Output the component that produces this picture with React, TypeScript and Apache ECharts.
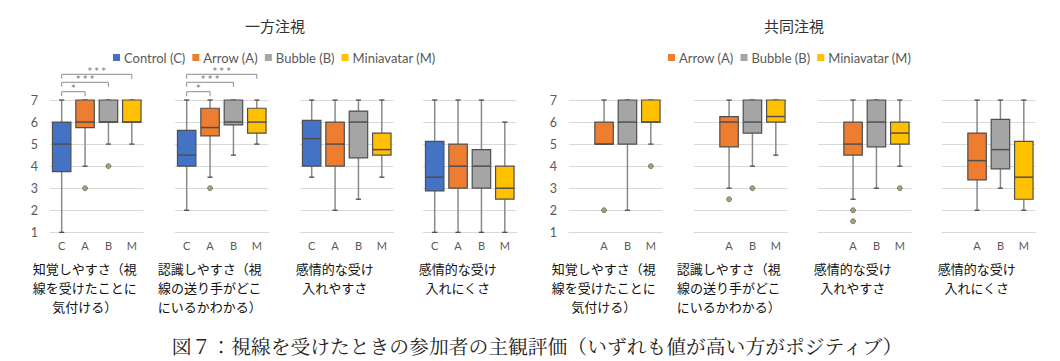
import React, { useEffect, useRef } from "react";
import * as echarts from "echarts";

// ---------- data ----------
const oneWayCategories = ["C", "A", "B", "M"];
const jointCategories = ["", "A", "B", "M"];
const seriesNames = ["Control (C)", "Arrow (A)", "Bubble (B)", "Miniavatar (M)"];
const seriesColors = ["#4472C4", "#ED7D31", "#A5A5A5", "#FFC000"];
const groupTitles = ["一方注視", "共同注視"];
const panelLabels = [
  "知覚しやすさ（視\n線を受けたことに\n気付ける）",
  "認識しやすさ（視\n線の送り手がどこ\nにいるかわかる）",
  "感情的な受け\n入れやすさ",
  "感情的な受け\n入れにくさ",
];
const caption = "図７：視線を受けたときの参加者の主観評価（いずれも値が高い方がポジティブ）";
const yMin = 1;
const yMax = 7;

// box rows: [categoryIndex, min, Q1, median, Q3, max]
const oneWayPerception = [
  [0, 1, 3.75, 5, 6, 7],
  [1, 4, 5.75, 6, 7, 7],
  [2, 5, 6, 6, 7, 7],
  [3, 5, 6, 6, 7, 7],
];
const oneWayPerceptionOutliers = [[1, 3], [2, 4]];

const oneWayRecognition = [
  [0, 2, 4, 4.5, 5.625, 7],
  [1, 3.5, 5.375, 5.75, 6.625, 7],
  [2, 4.5, 5.875, 6, 7, 7],
  [3, 5, 5.5, 6, 6.625, 7],
];
const oneWayRecognitionOutliers = [[1, 3]];

const oneWayAcceptEase = [
  [0, 3.5, 4, 5.25, 6.08, 7],
  [1, 2, 4, 5, 6, 7],
  [2, 2.5, 4.375, 6, 6.5, 7],
  [3, 3.5, 4.5, 4.75, 5.5, 7],
];
const oneWayAcceptEaseOutliers: number[][] = [];

const oneWayAcceptHard = [
  [0, 1, 2.875, 3.5, 5.125, 7],
  [1, 1, 3, 4, 5, 7],
  [2, 1, 3, 4, 4.75, 7],
  [3, 1, 2.5, 3, 4, 6],
];
const oneWayAcceptHardOutliers: number[][] = [];

const jointPerception = [
  [1, 5, 5, 5, 6, 7],
  [2, 2, 5, 6, 7, 7],
  [3, 5, 6, 6, 7, 7],
];
const jointPerceptionOutliers = [[1, 2], [3, 4]];

const jointRecognition = [
  [1, 3, 4.875, 6, 6.25, 7],
  [2, 4, 5.5, 6, 7, 7],
  [3, 4.5, 6, 6.25, 7, 7],
];
const jointRecognitionOutliers = [[1, 2.5], [2, 3]];

const jointAcceptEase = [
  [1, 2.5, 4.5, 5, 6, 7],
  [2, 3, 4.875, 6, 7, 7],
  [3, 4, 5, 5.5, 6, 7],
];
const jointAcceptEaseOutliers = [[1, 2], [1, 1.5], [3, 3]];

const jointAcceptHard = [
  [1, 2, 3.375, 4.25, 5.5, 7],
  [2, 3, 3.875, 4.75, 6.125, 7],
  [3, 2, 2.5, 3.5, 5.125, 7],
];
const jointAcceptHardOutliers: number[][] = [];

// significance brackets: [fromCategory, toCategory, level]
const significanceBrackets = [[0, 1, 0], [0, 2, 1], [0, 3, 2]];
const significanceMarks = ["*", "* * *", "* * *"];

// ---------- layout ----------
const panels = [
  { boxes: oneWayPerception, outliers: oneWayPerceptionOutliers, cats: oneWayCategories, brackets: true },
  { boxes: oneWayRecognition, outliers: oneWayRecognitionOutliers, cats: oneWayCategories, brackets: true },
  { boxes: oneWayAcceptEase, outliers: oneWayAcceptEaseOutliers, cats: oneWayCategories, brackets: false },
  { boxes: oneWayAcceptHard, outliers: oneWayAcceptHardOutliers, cats: oneWayCategories, brackets: false },
  { boxes: jointPerception, outliers: jointPerceptionOutliers, cats: jointCategories, brackets: false },
  { boxes: jointRecognition, outliers: jointRecognitionOutliers, cats: jointCategories, brackets: false },
  { boxes: jointAcceptEase, outliers: jointAcceptEaseOutliers, cats: jointCategories, brackets: false },
  { boxes: jointAcceptHard, outliers: jointAcceptHardOutliers, cats: jointCategories, brackets: false },
];
const gridLefts = [50, 175, 300, 423, 569, 694, 818, 942];
const gridWidth = 93.5;
const gridTop = 100;
const gridHeight = 132.3;
const bracketOffsets = [8.3, 17.7, 25.7];
const titleCenters = [275, 794];

const CJK = '"Noto Sans CJK JP", sans-serif';
const LATIN = 'Lato, "Open Sans", sans-serif';

function renderBox(params: any, api: any) {
  const cat = api.value(0);
  const pMin = api.coord([cat, api.value(1)]);
  const yQ1 = api.coord([cat, api.value(2)])[1];
  const yMed = api.coord([cat, api.value(3)])[1];
  const yQ3 = api.coord([cat, api.value(4)])[1];
  const yMaxP = api.coord([cat, api.value(5)])[1];
  const x = pMin[0];
  const yMinP = pMin[1];
  const bw = api.size([1, 0])[0] * 0.79;
  const cap = 2.6;
  const whisker = { stroke: "#8a8a8a", lineWidth: 1.5 };
  const capStyle = { stroke: "#404040", lineWidth: 1.2 };
  const children: any[] = [];
  if (yMinP - yQ1 > 0.5) {
    children.push({ type: "line", shape: { x1: x, y1: yQ1, x2: x, y2: yMinP }, style: whisker });
  }
  children.push({ type: "line", shape: { x1: x - cap, y1: yMinP, x2: x + cap, y2: yMinP }, style: capStyle });
  if (yQ3 - yMaxP > 0.5) {
    children.push({ type: "line", shape: { x1: x, y1: yQ3, x2: x, y2: yMaxP }, style: whisker });
  }
  children.push({ type: "line", shape: { x1: x - cap, y1: yMaxP, x2: x + cap, y2: yMaxP }, style: capStyle });
  children.push({
    type: "rect",
    shape: { x: x - bw / 2, y: yQ3, width: bw, height: yQ1 - yQ3 },
    style: { fill: seriesColors[cat], stroke: "#4f4f4f", lineWidth: 1.2 },
  });
  children.push({
    type: "line",
    shape: { x1: x - bw / 2, y1: yMed, x2: x + bw / 2, y2: yMed },
    style: { stroke: "#4f4f4f", lineWidth: 1.5 },
  });
  return { type: "group", children };
}

function renderBracket(params: any, api: any) {
  const p1 = api.coord([api.value(0), yMax]);
  const p2 = api.coord([api.value(1), yMax]);
  const y = p1[1] - bracketOffsets[api.value(2)];
  return {
    type: "group",
    children: [
      {
        type: "polyline",
        shape: { points: [[p1[0], y + 4.5], [p1[0], y], [p2[0], y], [p2[0], y + 4.5]] },
        style: { stroke: "#8c8c8c", lineWidth: 1, fill: null },
      },
      {
        type: "text",
        x: (p1[0] + p2[0]) / 2,
        y: y + 0.5,
        style: {
          text: significanceMarks[params.dataIndex],
          textAlign: "center",
          textVerticalAlign: "bottom",
          fill: "#6a6a6a",
          font: '8.5px "DejaVu Sans", sans-serif',
          lineHeight: 8,
        },
      },
    ],
  };
}

export default function App() {
  const ref = useRef<HTMLDivElement>(null);
  useEffect(() => {
    if (!ref.current) return;
    const chart = echarts.init(ref.current, undefined, { renderer: "svg" });

    const grid = gridLefts.map((l) => ({ left: l, top: gridTop, width: gridWidth, height: gridHeight }));
    const xAxis = panels.map((p, i) => ({
      type: "category",
      gridIndex: i,
      data: p.cats,
      axisTick: { show: false },
      axisLine: { lineStyle: { color: "#d9d9d9", width: 1 } },
      axisLabel: { color: "#595959", fontSize: 11, fontFamily: LATIN, margin: 8 },
      splitLine: { show: false },
    }));
    const yAxis = panels.map((_, i) => ({
      type: "value",
      gridIndex: i,
      min: yMin,
      max: yMax,
      interval: 1,
      axisLine: { show: false },
      axisTick: { show: false },
      axisLabel: { show: i === 0 || i === 4, color: "#595959", fontSize: 12.5, fontFamily: LATIN, margin: 12 },
      splitLine: { lineStyle: { color: "#d9d9d9", width: 1 } },
    }));

    const series: any[] = [];
    seriesNames.forEach((n, k) => {
      series.push({ type: "line", name: n, data: [], xAxisIndex: 0, yAxisIndex: 0, itemStyle: { color: seriesColors[k] }, lineStyle: { color: seriesColors[k] } });
    });
    panels.forEach((p, i) => {
      series.push({
        type: "custom",
        xAxisIndex: i,
        yAxisIndex: i,
        renderItem: renderBox,
        encode: { x: 0, y: [1, 2, 3, 4, 5] },
        data: p.boxes,
        z: 2,
      });
      if (p.outliers.length) {
        series.push({
          type: "scatter",
          xAxisIndex: i,
          yAxisIndex: i,
          symbol: "circle",
          symbolSize: 5,
          data: p.outliers,
          itemStyle: { color: "#948a66", borderColor: "#5e5646", borderWidth: 0.8 },
          z: 3,
        });
      }
      if (p.brackets) {
        series.push({
          type: "custom",
          xAxisIndex: i,
          yAxisIndex: i,
          renderItem: renderBracket,
          encode: { x: [0, 1] },
          clip: false,
          data: significanceBrackets,
          z: 4,
        });
      }
    });

    const legendCommon = {
      icon: "rect",
      itemWidth: 7,
      itemHeight: 7,
      itemGap: 7,
      top: 46,
      selectedMode: false,
      textStyle: { color: "#595959", fontSize: 13, fontFamily: LATIN, padding: [0, 0, 0, -1] },
    };

    const graphic: any[] = [];
    groupTitles.forEach((t, g) => {
      graphic.push({
        type: "text",
        x: titleCenters[g],
        y: 25,
        style: { text: t, textAlign: "center", textVerticalAlign: "middle", fill: "#333333", font: `15px ${CJK}` },
      });
    });
    gridLefts.forEach((l, i) => {
      graphic.push({
        type: "text",
        x: l + gridWidth / 2 - 12,
        y: 258.5,
        style: {
          text: panelLabels[i % 4],
          textAlign: "center",
          textVerticalAlign: "top",
          fill: "#111111",
          font: `13px ${CJK}`,
          lineHeight: 19,
        },
      });
    });
    graphic.push({
      type: "text",
      x: 537,
      y: 345,
      style: {
        text: caption,
        textAlign: "center",
        textVerticalAlign: "middle",
        fill: "#222222",
        font: `19.8px "Noto Serif CJK JP", "Noto Sans CJK JP", serif`,
      },
    });

    chart.setOption({
      animation: false,
      backgroundColor: "#ffffff",
      grid,
      xAxis,
      yAxis,
      legend: [
        { ...legendCommon, left: 108, data: seriesNames },
        { ...legendCommon, left: 663, data: seriesNames.slice(1) },
      ],
      series,
      graphic,
    });
    return () => chart.dispose();
  }, []);
  return <div ref={ref} style={{ position: "absolute", left: 0, top: 0, width: 1060, height: 361 }} />;
}
